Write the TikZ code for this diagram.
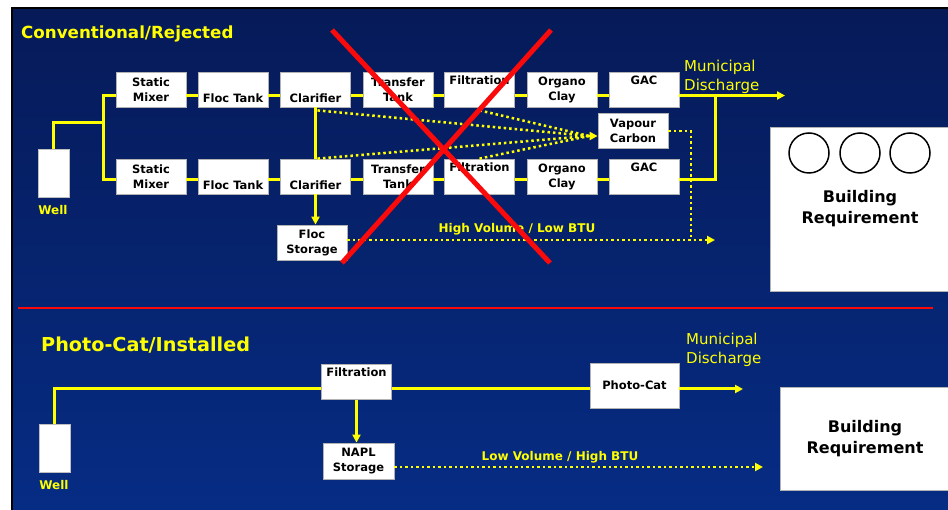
\documentclass[tikz,border=0pt]{standalone}
\usepackage{fontspec}
\setmainfont{DejaVu Sans}
\usetikzlibrary{arrows.meta}

\definecolor{navytop}{RGB}{6,26,88}
\definecolor{navybot}{RGB}{6,44,132}
\definecolor{flowyellow}{RGB}{255,255,0}
\definecolor{crossred}{RGB}{250,10,10}

\newcommand{\boxfont}{\fontsize{11.5}{15}\selectfont\bfseries}

\tikzset{
  unit/.style={draw=gray!60, fill=white, line width=0.8pt, minimum width=70pt,
    minimum height=35pt, inner sep=0pt, align=center, font=\boxfont},
  well/.style={draw=gray!50, fill=white, minimum width=31pt, minimum height=48pt, inner sep=0pt},
  bld/.style={draw=gray!60, fill=white, inner sep=0pt, align=center,
    font=\fontsize{16}{21}\selectfont\bfseries},
  flow/.style={flowyellow, line width=3pt},
  flowarrow/.style={flow, -{Triangle[length=8pt,width=8pt]}},
  vent/.style={flowyellow, line width=2.5pt, dash pattern=on 2.5pt off 3pt},
  ventarrow/.style={vent, -{Triangle[length=8pt,width=8pt]}},
  tag/.style={text=flowyellow, inner sep=0pt, font=\fontsize{12}{14}\selectfont\bfseries},
  note/.style={text=flowyellow, inner sep=0pt, align=left, anchor=west, font=\fontsize{15}{19}\selectfont},
  title/.style={text=flowyellow, inner sep=0pt, anchor=west, font=\fontsize{16.7}{20}\selectfont\bfseries}
}

\begin{document}
\begin{tikzpicture}[x=1pt, y=-1pt]
        \useasboundingbox (0,0) rectangle (948,510);

        % Slide background
        \shade[top color=navytop, bottom color=navybot] (13,9) rectangle (948,510);
        \draw[black, line width=2pt] (12,510) -- (12,8) -- (948,8);

        % Titles
        \node[title] (titleA) at (21,34) {Conventional/Rejected};
        \node[title, font=\fontsize{19.2}{22}\selectfont\bfseries] (titleB) at (41,345) {Photo-Cat/Installed};

        % Conventional train, upper line
        \node[well] (wellA) at (53.5,173) {};
        \node[tag] (wellAlbl) at (53,210) {Well};
        \node[unit] (mixA) at (151,89.5) {Static\\Mixer};
        \node[unit] (flocA) at (233,89.5) {\strut\\Floc Tank};
        \node[unit] (clarA) at (315.5,89.5) {\strut\\Clarifier};
        \node[unit] (tranA) at (398,89.5) {Transfer\\Tank};
        \node[unit] (filtA) at (479.5,89.5) {Filtration\\\strut};
        \node[unit] (orgA) at (562,89.5) {Organo\\Clay};
        \node[unit] (gacA) at (644,89.5) {GAC\\\strut};

        % Conventional train, lower line
        \node[unit] (mixB) at (151,176.5) {Static\\Mixer};
        \node[unit] (flocB) at (233,176.5) {\strut\\Floc Tank};
        \node[unit] (clarB) at (315.5,176.5) {\strut\\Clarifier};
        \node[unit] (tranB) at (398,176.5) {Transfer\\Tank};
        \node[unit] (filtB) at (479.5,176.5) {Filtration\\\strut};
        \node[unit] (orgB) at (562,176.5) {Organo\\Clay};
        \node[unit] (gacB) at (644,176.5) {GAC\\\strut};

        \node[unit] (vapour) at (633,130.5) {Vapour\\Carbon};
        \node[unit] (flocS) at (312,242.5) {Floc\\Storage};

        % Outlets
        \node[note] (munA) at (684,77) {Municipal\\Discharge};
        \node[bld, minimum width=180pt, minimum height=164pt] (bldA) at (860,209) {Building\\Requirement};
        \draw[black, line width=1.5pt] (809,153) circle (20pt);
        \draw[black, line width=1.5pt] (860,153) circle (20pt);
        \draw[black, line width=1.5pt] (910,153) circle (20pt);

        % Solid piping, upper section
        \coordinate (splitA) at (104,123);
        \draw[flow] (wellA.north) |- (splitA);
        \draw[flow] ([yshift=-6pt]mixA.west) -- ++(-12,0) |- ([yshift=-3pt]mixB.west);
        \draw[flow] ([yshift=-6pt]mixA.east) -- ([yshift=-6pt]flocA.west);
        \draw[flow] ([yshift=-6pt]flocA.east) -- ([yshift=-6pt]clarA.west);
        \draw[flow] ([yshift=-6pt]clarA.east) -- ([yshift=-6pt]tranA.west);
        \draw[flow] ([yshift=-6pt]tranA.east) -- ([yshift=-6pt]filtA.west);
        \draw[flow] ([yshift=-6pt]filtA.east) -- ([yshift=-6pt]orgA.west);
        \draw[flow] ([yshift=-6pt]orgA.east) -- ([yshift=-6pt]gacA.west);
        \draw[flow] ([yshift=-3pt]mixB.east) -- ([yshift=-3pt]flocB.west);
        \draw[flow] ([yshift=-3pt]flocB.east) -- ([yshift=-3pt]clarB.west);
        \draw[flow] ([yshift=-3pt]clarB.east) -- ([yshift=-3pt]tranB.west);
        \draw[flow] ([yshift=-3pt]tranB.east) -- ([yshift=-3pt]filtB.west);
        \draw[flow] ([yshift=-3pt]filtB.east) -- ([yshift=-3pt]orgB.west);
        \draw[flow] ([yshift=-3pt]orgB.east) -- ([yshift=-3pt]gacB.west);
        \draw[flow] (clarA.south) -- (clarB.north);
        \draw[flowarrow] (clarB.south) -- (clarB.south |- flocS.north);
        \coordinate (outA) at (785,95.5);
        \coordinate (joinA) at (715,95.5);
        \draw[flowarrow] ([yshift=-6pt]gacA.east) -- (outA);
        \draw[flow] ([yshift=-3pt]gacB.east) -| (joinA);

        % Dotted vapour lines
        \coordinate (ventIn) at (589,136);
        \coordinate (dropA) at (691,240);
        \coordinate (highEnd) at (715,240);
        \draw[vent] ([xshift=2pt,yshift=-3pt]clarA.south) -- (ventIn);
        \draw[vent] ([xshift=2pt]clarB.north) -- (ventIn);
        \draw[vent] ([yshift=-3pt]filtA.south) -- (ventIn);
        \draw[vent] (filtB.north) -- (ventIn);
        \draw[ventarrow] (ventIn) -- ([yshift=-5.5pt]vapour.west);
        \draw[vent] ([yshift=-0.5pt]vapour.east) -| (dropA);
        \draw[ventarrow] ([yshift=2.5pt]flocS.east) -- (highEnd);
        \node[tag] (highLbl) at (517,229) {High Volume / Low BTU};

        % Rejected: big red cross
        \draw[crossred, line width=5pt] (332,30) -- (550,263);
        \draw[crossred, line width=5pt] (551,30) -- (342,263);

        % Divider
        \draw[crossred, line width=2pt] (18,308) -- (933,308);

        % Photo-Cat train
        \node[well] (wellB) at (54.5,448) {};
        \node[tag] (wellBlbl) at (54,485) {Well};
        \node[unit] (filtC) at (356.5,382) {Filtration\\\strut};
        \node[unit, minimum width=71pt, minimum height=36pt] (napl) at (358.5,461) {NAPL\\Storage};
        \node[unit, minimum width=89pt, minimum height=45pt] (photo) at (634.5,385.5) {Photo-Cat};
        \node[note] (munB) at (686,350) {Municipal\\Discharge};
        \node[bld, minimum width=170pt, minimum height=103pt] (bldB) at (865,438.5) {Building\\Requirement};

        \coordinate (outB) at (743,389);
        \coordinate (lowEnd) at (763,467);
        \draw[flow] (wellB.north) |- ([yshift=-7pt]filtC.west);
        \draw[flow] ([yshift=-7pt]filtC.east) -- ([yshift=-3.5pt]photo.west);
        \draw[flowarrow] ([yshift=-3.5pt]photo.east) -- (outB);
        \draw[flowarrow] (filtC.south) -- (filtC.south |- napl.north);
        \draw[ventarrow] ([yshift=-6pt]napl.east) -- (lowEnd);
        \node[tag] (lowLbl) at (560,457) {Low Volume / High BTU};
\end{tikzpicture}
\end{document}
